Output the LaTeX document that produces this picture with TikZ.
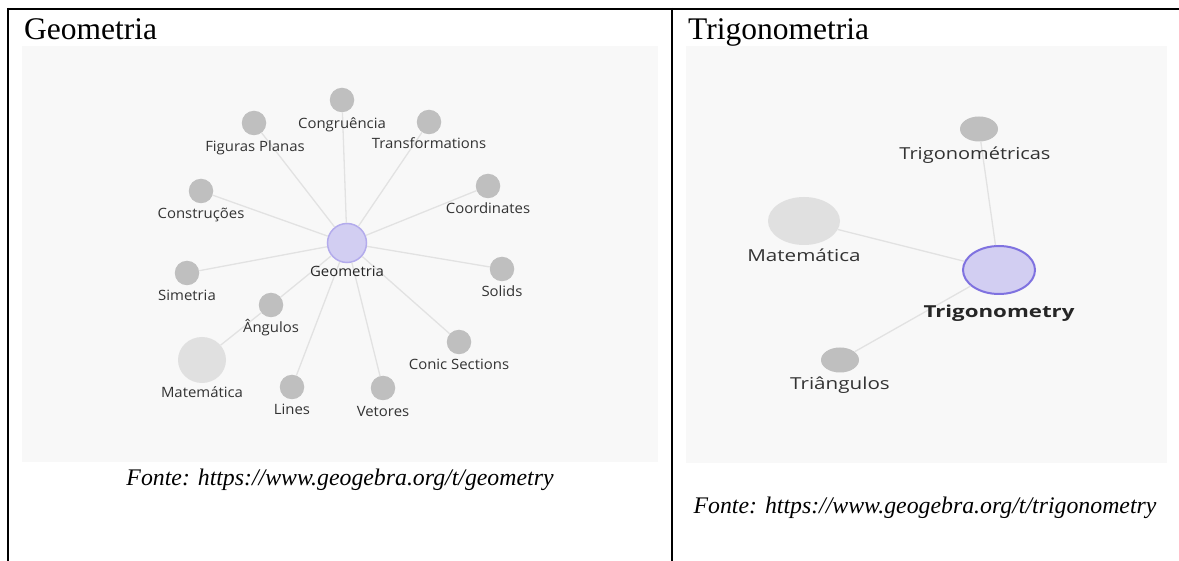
\documentclass[tikz,border=0pt]{standalone}
\usepackage{fontspec}
\setmainfont{Liberation Serif}
\newfontfamily\uifont{Open Sans}
\usetikzlibrary{shapes.geometric}
\definecolor{panelbg}{HTML}{F8F8F8}
\definecolor{smallnode}{HTML}{BFBFBF}
\definecolor{bignode}{HTML}{E0E0E0}
\definecolor{edgecol}{HTML}{E2E2E2}
\definecolor{geofill}{HTML}{D2CEF2}
\definecolor{geodraw}{HTML}{B3ABEC}
\definecolor{trigdraw}{HTML}{7F72E0}
\definecolor{labelcol}{HTML}{333333}
\tikzset{
  small/.style={circle, fill=smallnode, minimum size=24.5pt, inner sep=0pt},
  mat/.style={ellipse, fill=bignode, minimum width=48pt, minimum height=46pt, inner sep=0pt},
  hub/.style={circle, fill=geofill, draw=geodraw, line width=1.5pt, minimum size=39pt, inner sep=0pt},
  glabel/.style={anchor=base, inner sep=0pt, text=labelcol, font=\uifont\fontsize{14.2}{17}\selectfont, xscale=1.05, transform shape},
  tsmall/.style={ellipse, fill=smallnode, minimum width=38pt, minimum height=25pt, inner sep=0pt},
  tmat/.style={ellipse, fill=bignode, minimum width=72pt, minimum height=48pt, inner sep=0pt},
  thub/.style={ellipse, fill=geofill, draw=trigdraw, line width=2pt, minimum width=72pt, minimum height=48pt, inner sep=0pt},
  tlabel/.style={anchor=base, inner sep=0pt, text=labelcol, font=\uifont\fontsize{16.5}{20}\selectfont, xscale=1.25, transform shape},
  edge/.style={draw=edgecol, line width=1.3pt},
  title/.style={anchor=base west, inner sep=0pt, font=\fontsize{31.5}{35}\selectfont},
  caption/.style={anchor=base, inner sep=0pt, font=\itshape\fontsize{23.8}{27}\selectfont},
  panel/.style={fill=panelbg},
  rule/.style={line width=2.2pt}
}
\begin{document}
\begin{tikzpicture}[x=1pt,y=-1pt]
\useasboundingbox (0,0) rectangle (1179,561);
% table rules
\draw[rule] (8,9) -- (1179,9);
\draw[rule] (8,8) -- (8,561);
\draw[rule] (672,8) -- (672,561);
% titles
\node[title] (t1) at (24,40) {Geometria};
\node[title] (t2) at (688,40) {Trigonometria};
% panels
\fill[panel] (22,46) rectangle (658,462);
\fill[panel] (686,46) rectangle (1167,463);

% ---------- Geometry graph ----------
\node[hub] (geo) at (347,243) {};
\node[small] (cong) at (342,100) {};
\node[small] (fig) at (254,123) {};
\node[small] (trans) at (429,122) {};
\node[small] (constr) at (201,191) {};
\node[small] (coord) at (488,186) {};
\node[small] (sim) at (187,273) {};
\node[small] (sol) at (502,269) {};
\node[small] (ang) at (271,305) {};
\node[mat] (mat) at (202,360) {};
\node[small] (conic) at (459,342) {};
\node[small] (lines) at (292,387) {};
\node[small] (vet) at (383,388) {};

\foreach \n in {cong,fig,trans,constr,coord,sim,sol,ang,conic,lines,vet}
  \draw[edge] (geo) -- (\n);
\draw[edge] (mat) -- (ang);

\node[glabel] (lgeo) at (347,277) {\color{black!85}Geometria};
\node[glabel] (lcong) at (342,129) {Congruência};
\node[glabel] (lfig) at (255,152) {Figuras Planas};
\node[glabel] (ltrans) at (429,149) {Transformations};
\node[glabel] (lconstr) at (201,219) {Construções};
\node[glabel] (lcoord) at (488,214) {Coordinates};
\node[glabel] (lsim) at (187,301) {Simetria};
\node[glabel] (lsol) at (502,297) {Solids};
\node[glabel] (lang) at (271,333) {Ângulos};
\node[glabel] (lmat) at (202,398) {Matemática};
\node[glabel] (lconic) at (459,370) {Conic Sections};
\node[glabel] (llines) at (292,415) {Lines};
\node[glabel] (lvet) at (383,417) {Vetores};

% ---------- Trigonometry graph ----------
\node[thub] (trig) at (999,270) {};
\node[tsmall] (tfun) at (979,129) {};
\node[tmat] (tmat) at (804,221) {};
\node[tsmall] (ttri) at (840,360) {};
\draw[edge] (trig) -- (tfun);
\draw[edge] (trig) -- (tmat);
\draw[edge] (trig) -- (ttri);

\node[tlabel, xscale=0.97] (ltfun) at (975,160) {Trigonométricas};
\node[tlabel] (ltmat) at (804,262) {Matemática};
\node[tlabel, font=\uifont\bfseries\fontsize{16.5}{20}\selectfont, xscale=1.08] (ltrig) at (999,318) {\color{black!85}Trigonometry};
\node[tlabel] (lttri) at (840,390) {Triângulos};

% captions
\node[caption] (c1) at (340,485) {Fonte: https://www.geogebra.org/t/geometry};
\node[caption] (c2) at (925,513) {Fonte: https://www.geogebra.org/t/trigonometry};
\end{tikzpicture}
\end{document}
